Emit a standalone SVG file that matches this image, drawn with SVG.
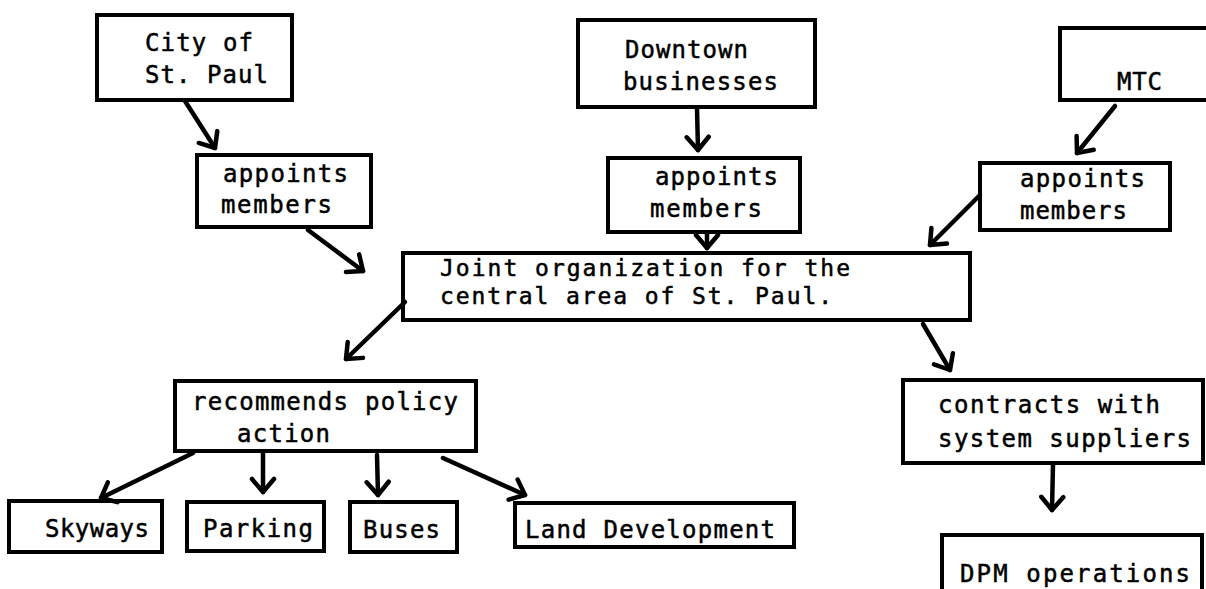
<svg xmlns="http://www.w3.org/2000/svg" width="1206" height="589" viewBox="0 0 1206 589">
<style>
.box{fill:none;stroke:#000;stroke-width:4;stroke-linejoin:miter}
.t{font-family:"DejaVu Sans Mono","Liberation Mono",monospace;font-size:24px;fill:#000;stroke:#000;stroke-width:0.5}
.s{font-size:23px}
.c{fill:none;stroke:#000;stroke-width:4.5;stroke-linecap:round}
</style>
<defs>
<marker id="ah" markerUnits="userSpaceOnUse" viewBox="-16 -14 20 28" refX="0" refY="0" markerWidth="20" markerHeight="28" orient="auto">
<path d="M-13,-11 L0,0 L-13,11" fill="none" stroke="#000" stroke-width="4.5" stroke-linecap="round" stroke-linejoin="round"/>
</marker>
</defs>
<rect width="1206" height="589" fill="#fff"/>
<g id="city"><rect class="box" x="97" y="15" width="195" height="85"/><text class="t" x="145" y="51" textLength="108" lengthAdjust="spacing">City of</text><text class="t" x="145" y="83" textLength="123" lengthAdjust="spacing">St. Paul</text></g>
<g id="appoints-left"><rect class="box" x="197" y="155" width="174" height="72"/><text class="t" x="223" y="182" textLength="125" lengthAdjust="spacing">appoints</text><text class="t" x="221" y="213" textLength="111" lengthAdjust="spacing">members</text></g>
<g id="downtown"><rect class="box" x="578" y="20" width="237" height="87"/><text class="t" x="625" y="58" textLength="123" lengthAdjust="spacing">Downtown</text><text class="t" x="623" y="90" textLength="155" lengthAdjust="spacing">businesses</text></g>
<g id="appoints-mid"><rect class="box" x="608" y="158" width="192" height="74"/><text class="t" x="655" y="185" textLength="123" lengthAdjust="spacing">appoints</text><text class="t" x="650" y="217" textLength="112" lengthAdjust="spacing">members</text></g>
<g id="mtc"><path class="box" d="M1210,28 H1060 V100 H1210"/><text class="t" x="1117" y="90" textLength="45" lengthAdjust="spacing">MTC</text></g>
<g id="appoints-right"><rect class="box" x="980" y="163" width="190" height="67"/><text class="t" x="1020" y="187" textLength="125" lengthAdjust="spacing">appoints</text><text class="t" x="1020" y="219" textLength="107" lengthAdjust="spacing">members</text></g>
<g id="joint"><rect class="box" x="403" y="253" width="567" height="67"/><text class="t s" x="440" y="276" textLength="410" lengthAdjust="spacing">Joint organization for the</text><text class="t s" x="440" y="304" textLength="392" lengthAdjust="spacing">central area of St. Paul.</text></g>
<g id="recommends"><rect class="box" x="175" y="381" width="301" height="70"/><text class="t" x="192" y="410" textLength="266" lengthAdjust="spacing">recommends policy</text><text class="t" x="237" y="442" textLength="93" lengthAdjust="spacing">action</text></g>
<g id="skyways"><rect class="box" x="9" y="501" width="153" height="51"/><text class="t" x="45" y="537" textLength="104" lengthAdjust="spacing">Skyways</text></g>
<g id="parking"><rect class="box" x="187" y="502" width="137" height="49"/><text class="t" x="203" y="537" textLength="110" lengthAdjust="spacing">Parking</text></g>
<g id="buses"><rect class="box" x="350" y="502" width="107" height="50"/><text class="t" x="363" y="538" textLength="77" lengthAdjust="spacing">Buses</text></g>
<g id="land"><rect class="box" x="515" y="503" width="279" height="44"/><text class="t" x="525" y="538" textLength="250" lengthAdjust="spacing">Land Development</text></g>
<g id="contracts"><rect class="box" x="903" y="380" width="300" height="83"/><text class="t" x="938" y="413" textLength="222" lengthAdjust="spacing">contracts with</text><text class="t" x="938" y="447" textLength="253" lengthAdjust="spacing">system suppliers</text></g>
<g id="dpm"><path class="box" d="M942,595 V535 H1202 V595"/><text class="t" x="960" y="582" textLength="230" lengthAdjust="spacing">DPM operations</text></g>
<g id="connectors">
<path class="c" marker-end="url(#ah)" d="M185,101 L215,148"/>
<path class="c" marker-end="url(#ah)" d="M308,230 L363,271"/>
<path class="c" marker-end="url(#ah)" d="M697,108 L698,150"/>
<path class="c" marker-end="url(#ah)" d="M707,233 L707,248"/>
<path class="c" marker-end="url(#ah)" d="M1115,106 L1077,153"/>
<path class="c" marker-end="url(#ah)" d="M980,195 L930,245"/>
<path class="c" marker-end="url(#ah)" d="M405,302 L346,359"/>
<path class="c" marker-end="url(#ah)" d="M923,324 L950,370"/>
<path class="c" marker-end="url(#ah)" d="M1053,464 L1052,510"/>
<path class="c" marker-end="url(#ah)" d="M193,453 L101,498"/>
<path class="c" marker-end="url(#ah)" d="M263,452 L263,492"/>
<path class="c" marker-end="url(#ah)" d="M377,455 L378,495"/>
<path class="c" marker-end="url(#ah)" d="M443,458 L525,495"/>
</g>
</svg>
